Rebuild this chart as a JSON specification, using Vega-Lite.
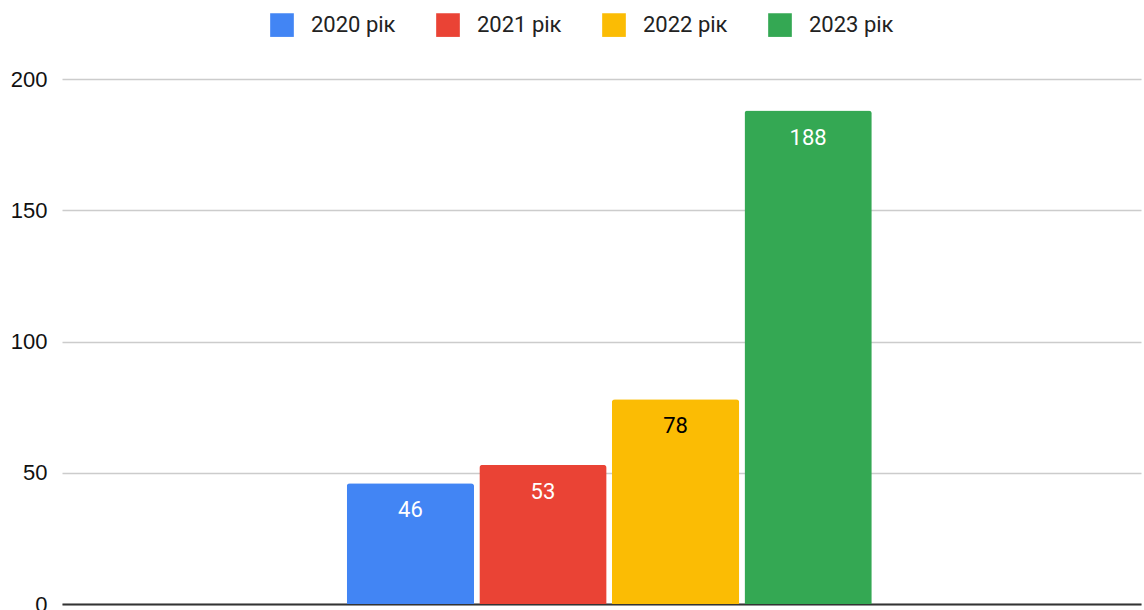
{
  "$schema": "https://vega.github.io/schema/vega-lite/v6.json",
  "width": 1079,
  "height": 525,
  "autosize": {"type": "none"},
  "padding": {"left": 62, "top": 79, "right": 3, "bottom": 6},
  "background": "white",
  "data": {
    "values": [
      {"g": "all", "year": "2020 рік", "value": 46},
      {"g": "all", "year": "2021 рік", "value": 53},
      {"g": "all", "year": "2022 рік", "value": 78},
      {"g": "all", "year": "2023 рік", "value": 188}
    ]
  },
  "config": {
    "view": {"stroke": null},
    "font": "Roboto"
  },
  "encoding": {
    "x": {
      "field": "g",
      "type": "nominal",
      "scale": {"paddingInner": 0, "paddingOuter": 0.5276, "align": 0.514},
      "axis": {
        "title": null,
        "labels": false,
        "ticks": false,
        "domain": true,
        "domainColor": "#333333",
        "domainWidth": 2,
        "grid": false
      }
    },
    "xOffset": {
      "field": "year",
      "type": "nominal",
      "scale": {"paddingInner": 0.04, "paddingOuter": 0}
    },
    "y": {
      "field": "value",
      "type": "quantitative",
      "scale": {"domain": [0, 200], "nice": false},
      "axis": {
        "title": null,
        "values": [0, 50, 100, 150, 200],
        "ticks": false,
        "domain": false,
        "gridColor": "#cccccc",
        "gridWidth": 1.3,
        "labelFont": "Liberation Sans",
        "labelFontSize": 22,
        "labelColor": "#111111",
        "labelPadding": 15
      }
    }
  },
  "layer": [
    {
      "mark": {"type": "bar", "cornerRadiusTopLeft": 3, "cornerRadiusTopRight": 3},
      "encoding": {
        "color": {
          "field": "year",
          "type": "nominal",
          "scale": {"range": ["#4285f4", "#ea4335", "#fbbc04", "#34a853"]},
          "legend": {
            "title": null,
            "orient": "none",
            "direction": "horizontal",
            "legendX": 208,
            "legendY": -66,
            "symbolType": "square",
            "symbolSize": 560,
            "symbolStrokeWidth": 0,
            "symbolOpacity": 1,
            "labelFont": "Roboto",
            "labelFontSize": 22,
            "labelColor": "#222222",
            "labelOffset": 17,
            "columnPadding": 40,
            "labelLimit": 200
          }
        }
      }
    },
    {
      "mark": {"type": "text", "baseline": "middle", "dy": 27, "fontSize": 22, "font": "Roboto"},
      "encoding": {
        "text": {"field": "value", "type": "quantitative"},
        "color": {
          "condition": {"test": "datum.year === '2022 рік'", "value": "#000000"},
          "value": "#ffffff"
        }
      }
    }
  ]
}
